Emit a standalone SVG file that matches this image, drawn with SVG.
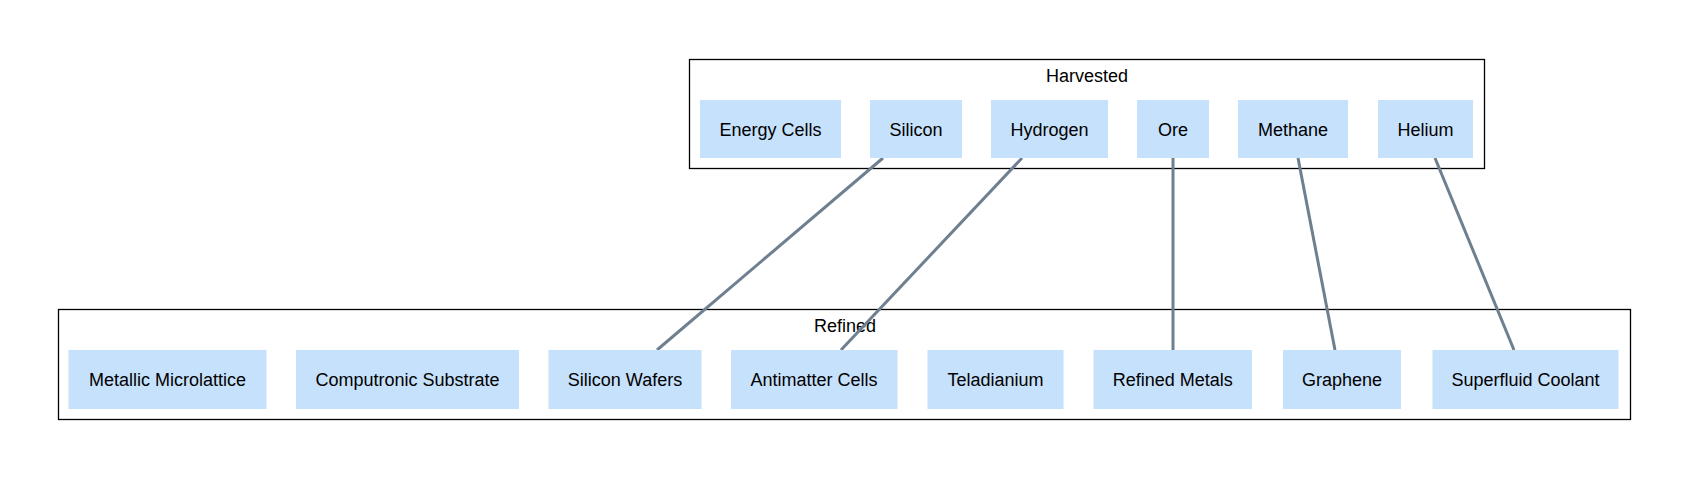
<svg xmlns="http://www.w3.org/2000/svg" width="1688" height="478" viewBox="0 0 1688 478">
<style>
.cluster{fill:none;stroke:#000;stroke-width:1.3}
.node rect{fill:#c6e1fc;stroke:none}
text{font-family:"Liberation Sans",Arial,sans-serif;font-size:18px;fill:#000;text-anchor:middle}
.edge{stroke:#6e7f8f;stroke-width:3;fill:none}
</style>
<rect width="1688" height="478" fill="#fff"/>
<g id="cluster_harvested">
<rect class="cluster" x="689.5" y="59.5" width="795" height="109"/>
<text x="1087" y="82">Harvested</text>
</g>
<g id="cluster_refined">
<rect class="cluster" x="58.5" y="309.5" width="1572" height="110"/>
<text x="845" y="332">Refined</text>
</g>
<g id="edges">
<line class="edge" x1="883" y1="158" x2="657" y2="350"/>
<line class="edge" x1="1022" y1="158" x2="841" y2="350"/>
<line class="edge" x1="1173" y1="158" x2="1173" y2="350"/>
<line class="edge" x1="1298" y1="158" x2="1335" y2="350"/>
<line class="edge" x1="1435" y1="158" x2="1514" y2="350"/>
</g>
<g id="n_energy_cells" class="node"><rect x="700" y="100" width="141" height="58"/><text x="770.5" y="135.5">Energy Cells</text></g>
<g id="n_silicon" class="node"><rect x="870" y="100" width="92" height="58"/><text x="916" y="135.5">Silicon</text></g>
<g id="n_hydrogen" class="node"><rect x="991" y="100" width="117" height="58"/><text x="1049.5" y="135.5">Hydrogen</text></g>
<g id="n_ore" class="node"><rect x="1137" y="100" width="72" height="58"/><text x="1173" y="135.5">Ore</text></g>
<g id="n_methane" class="node"><rect x="1238" y="100" width="110" height="58"/><text x="1293" y="135.5">Methane</text></g>
<g id="n_helium" class="node"><rect x="1378" y="100" width="95" height="58"/><text x="1425.5" y="135.5">Helium</text></g>
<g id="n_metallic_microlattice" class="node"><rect x="68.5" y="350" width="198" height="59"/><text x="167.5" y="386">Metallic Microlattice</text></g>
<g id="n_computronic_substrate" class="node"><rect x="296" y="350" width="223" height="59"/><text x="407.5" y="386">Computronic Substrate</text></g>
<g id="n_silicon_wafers" class="node"><rect x="548.5" y="350" width="153" height="59"/><text x="625" y="386">Silicon Wafers</text></g>
<g id="n_antimatter_cells" class="node"><rect x="731" y="350" width="166.5" height="59"/><text x="814" y="386">Antimatter Cells</text></g>
<g id="n_teladianium" class="node"><rect x="927.5" y="350" width="136" height="59"/><text x="995.5" y="386">Teladianium</text></g>
<g id="n_refined_metals" class="node"><rect x="1093.5" y="350" width="158.5" height="59"/><text x="1172.75" y="386">Refined Metals</text></g>
<g id="n_graphene" class="node"><rect x="1283" y="350" width="118" height="59"/><text x="1342" y="386">Graphene</text></g>
<g id="n_superfluid_coolant" class="node"><rect x="1432.5" y="350" width="186" height="59"/><text x="1525.5" y="386">Superfluid Coolant</text></g>
</svg>
